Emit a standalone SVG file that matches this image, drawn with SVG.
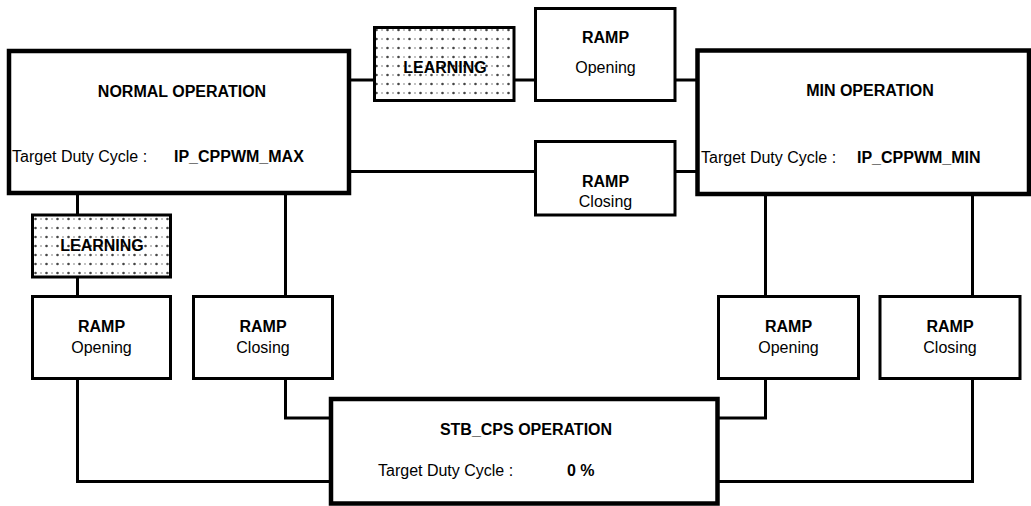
<svg xmlns="http://www.w3.org/2000/svg" width="1031" height="506" viewBox="0 0 1031 506">
<defs>
<pattern id="dots" x="0" y="0" width="11" height="9" patternUnits="userSpaceOnUse">
<circle cx="2.5" cy="3" r="1.3" fill="#444"/>
<rect x="7.5" y="2.1" width="1" height="1.8" fill="#777"/>
</pattern>
<style>
.thick{fill:#fff;stroke:#000;stroke-width:4.5}
.thin{fill:#fff;stroke:#000;stroke-width:3}
.learn{fill:url(#dots);stroke:#000;stroke-width:3}
.conn{fill:none;stroke:#000;stroke-width:3}
text{font-family:"Liberation Sans",Arial,sans-serif;font-size:16px;fill:#000}
.b{font-weight:bold}
.m{text-anchor:middle}
</style>
</defs>
<rect width="1031" height="506" fill="#fff"/>
<g id="connectors">
<path class="conn" d="M351 80H374M514 80H535.5M675 80H697"/>
<path class="conn" d="M351 171.5H535.5M675 171.5H697"/>
<path class="conn" d="M77.5 195V215M77.5 277V296.5M285.5 195V296.5"/>
<path class="conn" d="M765.5 196V296.5M972.5 196V296.5"/>
<path class="conn" d="M285.5 378.5V418H331M77.5 378.5V481.5H331"/>
<path class="conn" d="M765.5 378.5V418H717.5M972.5 378.5V481.5H717.5"/>
</g>
<g id="normal">
<rect class="thick" x="9" y="51" width="340" height="142"/>
<text class="b m" x="182" y="96.5">NORMAL OPERATION</text>
<text x="12" y="162">Target Duty Cycle :</text>
<text class="b" x="174" y="162">IP_CPPWM_MAX</text>
</g>
<g id="learning-top">
<rect class="learn" x="374.5" y="27.5" width="139.5" height="73"/>
<text class="b m" x="445" y="73">LEARNING</text>
</g>
<g id="ramp-opening-top">
<rect class="thin" x="535.5" y="8.5" width="139.5" height="92"/>
<text class="b m" x="605.5" y="43">RAMP</text>
<text class="m" x="605.5" y="72.5">Opening</text>
</g>
<g id="ramp-closing-top">
<rect class="thin" x="535.5" y="141.5" width="139.5" height="73.5"/>
<text class="b m" x="605.5" y="187">RAMP</text>
<text class="m" x="605.5" y="207">Closing</text>
</g>
<g id="min">
<rect class="thick" x="697.5" y="50.5" width="331.5" height="143.5"/>
<text class="b m" x="870" y="95.5">MIN OPERATION</text>
<text x="701" y="163">Target Duty Cycle :</text>
<text class="b" x="857" y="163">IP_CPPWM_MIN</text>
</g>
<g id="learning-left">
<rect class="learn" x="32.5" y="215" width="138" height="62"/>
<text class="b m" x="102" y="251">LEARNING</text>
</g>
<g id="ramp-opening-left">
<rect class="thin" x="32.5" y="296.5" width="138" height="82"/>
<text class="b m" x="101.5" y="332">RAMP</text>
<text class="m" x="101.5" y="352.5">Opening</text>
</g>
<g id="ramp-closing-left">
<rect class="thin" x="193.5" y="296.5" width="139" height="82"/>
<text class="b m" x="263" y="332">RAMP</text>
<text class="m" x="263" y="352.5">Closing</text>
</g>
<g id="ramp-opening-right">
<rect class="thin" x="718.5" y="296.5" width="140" height="82"/>
<text class="b m" x="788.5" y="332">RAMP</text>
<text class="m" x="788.5" y="352.5">Opening</text>
</g>
<g id="ramp-closing-right">
<rect class="thin" x="880" y="296.5" width="140" height="82"/>
<text class="b m" x="950" y="332">RAMP</text>
<text class="m" x="950" y="352.5">Closing</text>
</g>
<g id="stb">
<rect class="thick" x="331" y="399" width="386.5" height="104.5"/>
<text class="b m" x="526" y="435">STB_CPS OPERATION</text>
<text x="378" y="476">Target Duty Cycle :</text>
<text class="b" x="567" y="476">0 %</text>
</g>
</svg>
